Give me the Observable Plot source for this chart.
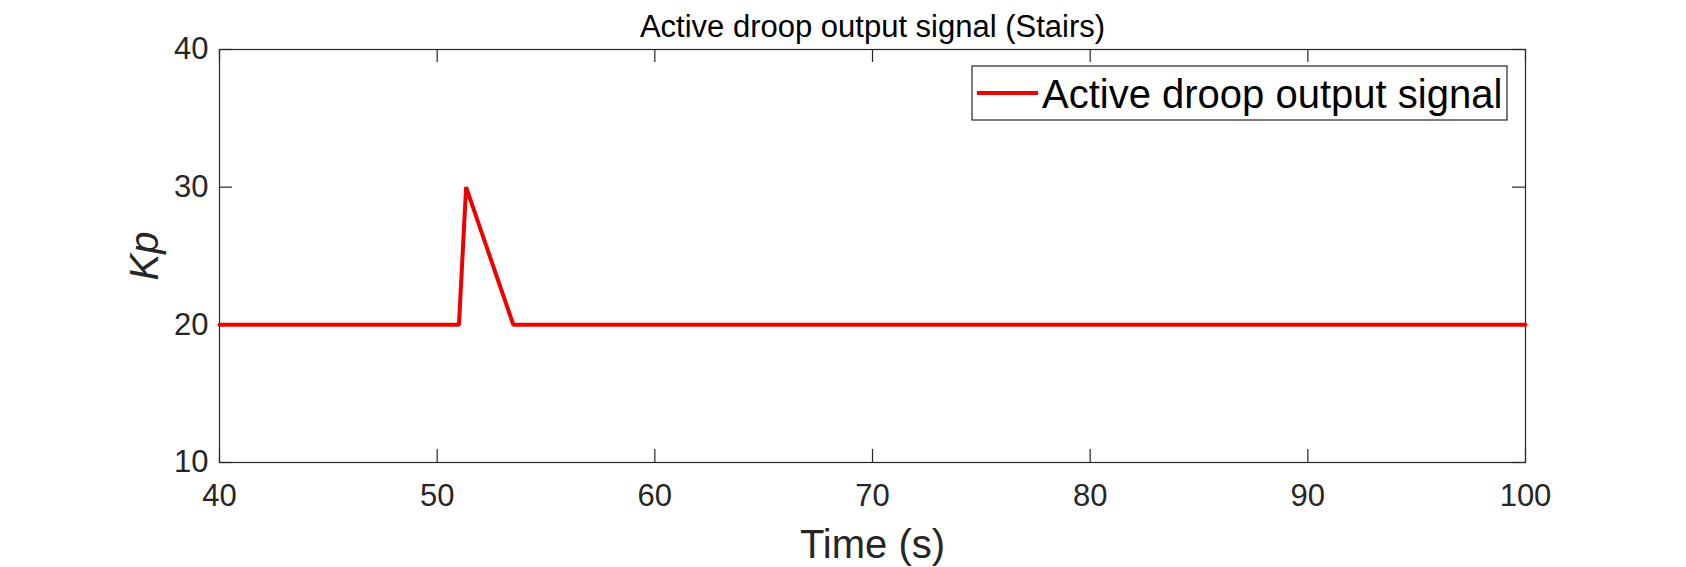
<!DOCTYPE html>
<html>
<head>
<meta charset="utf-8">
<script src="https://cdn.jsdelivr.net/npm/d3@7"></script>
<script src="https://cdn.jsdelivr.net/npm/@observablehq/plot@0.6"></script>
<style>
  html, body { margin: 0; padding: 0; background: #fff; }
  #chart svg { display: block; }
</style>
</head>
<body>
<div id="chart"></div>
<script>
// Data
const time = [40, 51, 51.33, 53.5, 100];
const kp = [20, 20, 30, 20, 20];
const xTicks = [40, 50, 60, 70, 80, 90, 100];
const yTicks = [10, 20, 30, 40];
const titleText = "Active droop output signal (Stairs)";
const xLabel = "Time (s)";
const yLabel = "Kp";
const seriesName = "Active droop output signal";

const data = time.map((t, i) => ({t, k: kp[i]}));

const font = "'Liberation Sans', Arial, Helvetica, sans-serif";
const axisColor = "#262626";
const lineColor = "#ee0000";
const W = 1686, H = 567;
const mLeft = 219, mRight = 161, mTop = 49, mBottom = 105;
const frameH = H - mTop - mBottom;
const frameW = W - mLeft - mRight;
const tick = 13;

const chart = Plot.plot({
  width: W,
  height: H,
  marginLeft: mLeft,
  marginRight: mRight,
  marginTop: mTop,
  marginBottom: mBottom,
  style: {fontFamily: font, background: "#fff"},
  x: {domain: [40, 100]},
  y: {domain: [10, 40]},
  marks: [
    Plot.frame({stroke: axisColor, strokeWidth: 1.2}),
    // inward ticks, bottom & top
    Plot.tickX(xTicks, {x: d => d, stroke: axisColor, strokeWidth: 1.2, insetTop: frameH - tick}),
    Plot.tickX(xTicks, {x: d => d, stroke: axisColor, strokeWidth: 1.2, insetBottom: frameH - tick}),
    // inward ticks, left & right
    Plot.tickY(yTicks, {y: d => d, stroke: axisColor, strokeWidth: 1.2, insetRight: frameW - tick}),
    Plot.tickY(yTicks, {y: d => d, stroke: axisColor, strokeWidth: 1.2, insetLeft: frameW - tick}),
    Plot.axisX({ticks: xTicks, tickSize: 0, tickPadding: 21, fontSize: 31, color: axisColor, label: null}),
    Plot.axisY({ticks: yTicks, tickSize: 0, tickPadding: 11, fontSize: 31, color: axisColor, label: null}),
    Plot.line(data, {x: "t", y: "k", stroke: lineColor, strokeWidth: 4, strokeLinejoin: "miter"}),
    Plot.text([titleText], {frameAnchor: "top", dy: -13, lineAnchor: "bottom", textAnchor: "middle", fontSize: 31, fill: "#000", text: d => d}),
    Plot.text([xLabel], {frameAnchor: "bottom", dy: 95, lineAnchor: "bottom", textAnchor: "middle", fontSize: 40, fill: axisColor, text: d => d}),
    Plot.text([yLabel], {frameAnchor: "left", dx: -62, rotate: -90, lineAnchor: "bottom", textAnchor: "middle", fontSize: 40, fontStyle: "italic", fill: axisColor, text: d => d})
  ]
});

document.getElementById("chart").appendChild(chart);

// Legend box inside the plot, top-right, positioned relative to the frame
const svg = d3.select(chart);
const xr = chart.scale("x").range;
const yr = chart.scale("y").range;
const frameRight = Math.max(...xr);
const frameTop = Math.min(...yr);
const boxW = 535, boxH = 54;
const boxX = frameRight - 18 - boxW;
const boxY = frameTop + 17;
const lg = svg.append("g").attr("class", "legend");
lg.append("rect")
  .attr("x", boxX).attr("y", boxY).attr("width", boxW).attr("height", boxH)
  .attr("fill", "#fff").attr("stroke", axisColor).attr("stroke-width", 1.2);
lg.append("line")
  .attr("x1", boxX + 5).attr("x2", boxX + 66)
  .attr("y1", boxY + 27).attr("y2", boxY + 27)
  .attr("stroke", lineColor).attr("stroke-width", 4);
lg.append("text")
  .attr("x", boxX + 70).attr("y", boxY + 42)
  .attr("text-anchor", "start")
  .attr("font-family", font).attr("font-size", 40).attr("fill", "#000")
  .text(seriesName);
</script>
</body>
</html>
